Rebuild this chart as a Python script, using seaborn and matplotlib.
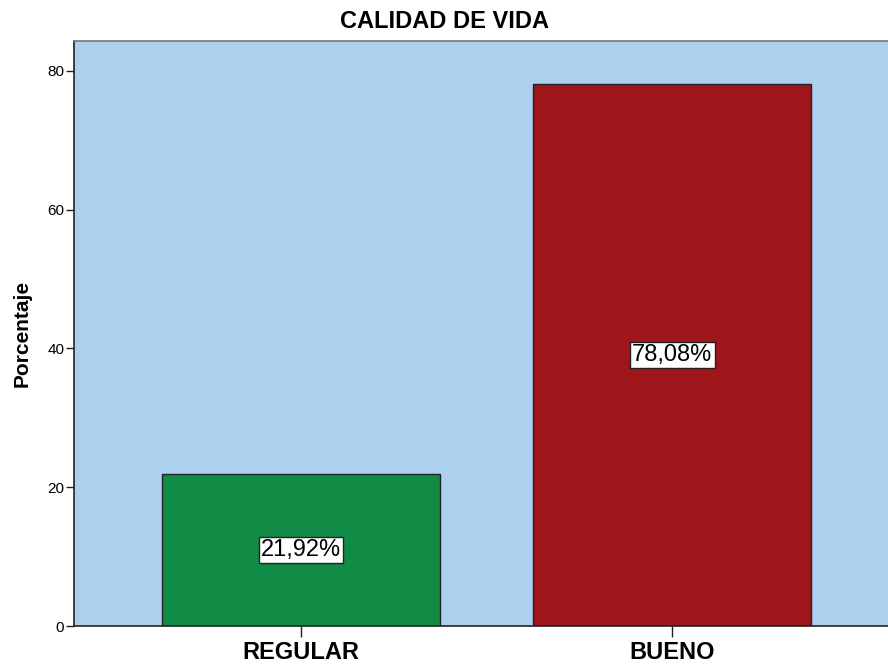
import matplotlib
matplotlib.use("Agg")
import matplotlib.pyplot as plt
import seaborn as sns
import pandas as pd

# Data
categorias = ["REGULAR", "BUENO"]
porcentajes = [21.92, 78.08]
colores = ["#118C47", "#9F161A"]

df = pd.DataFrame({"categoria": categorias, "porcentaje": porcentajes})

sns.set_style("white")
plt.rcParams['font.family'] = ['Liberation Sans', 'DejaVu Sans']

fig = plt.figure(figsize=(8.88, 6.67), dpi=100)
ax = fig.add_axes([74 / 888, (667 - 626) / 667, 1.0 - 74 / 888, 585 / 667])
ax.set_facecolor("#ADD0EE")

sns.barplot(data=df, x="categoria", y="porcentaje", hue="categoria",
            palette=colores, width=0.75, edgecolor="#222222", linewidth=1,
            saturation=1, legend=False, ax=ax)

ax.set_xlim(-0.612, 1.582)
ax.set_ylim(0, 84.3)
ax.set_yticks([0, 20, 40, 60, 80])
ax.tick_params(axis="y", length=6, width=1, color="#222222", labelsize=11,
               labelcolor="black", pad=1, left=True)
ax.tick_params(axis="x", length=8, width=1, color="#222222", labelsize=17,
               labelcolor="black", pad=3, bottom=True)
for lbl in ax.get_xticklabels():
    lbl.set_fontweight("bold")

ax.set_xlabel("")
ax.set_ylabel("Porcentaje", fontsize=15, fontweight="bold", color="black", labelpad=11)

# title centred on the whole figure, like SPSS output
fig.text(0.5, 1 - 22 / 667, "CALIDAD DE VIDA", ha="center", va="center",
         fontsize=17, fontweight="bold", color="black")

for s in ["left", "bottom"]:
    ax.spines[s].set_color("#222222")
    ax.spines[s].set_linewidth(1.2)
ax.spines["top"].set_color("#777777")
ax.spines["top"].set_linewidth(1.2)
ax.spines["right"].set_visible(False)

for i, v in enumerate(porcentajes):
    ax.text(i, v / 2, f"{v:.2f}%".replace(".", ","), ha="center", va="center",
            fontsize=17, color="black",
            bbox=dict(boxstyle="square,pad=0.1", facecolor="white", edgecolor="#222222", linewidth=1))

fig.savefig("out.png", dpi=100)
